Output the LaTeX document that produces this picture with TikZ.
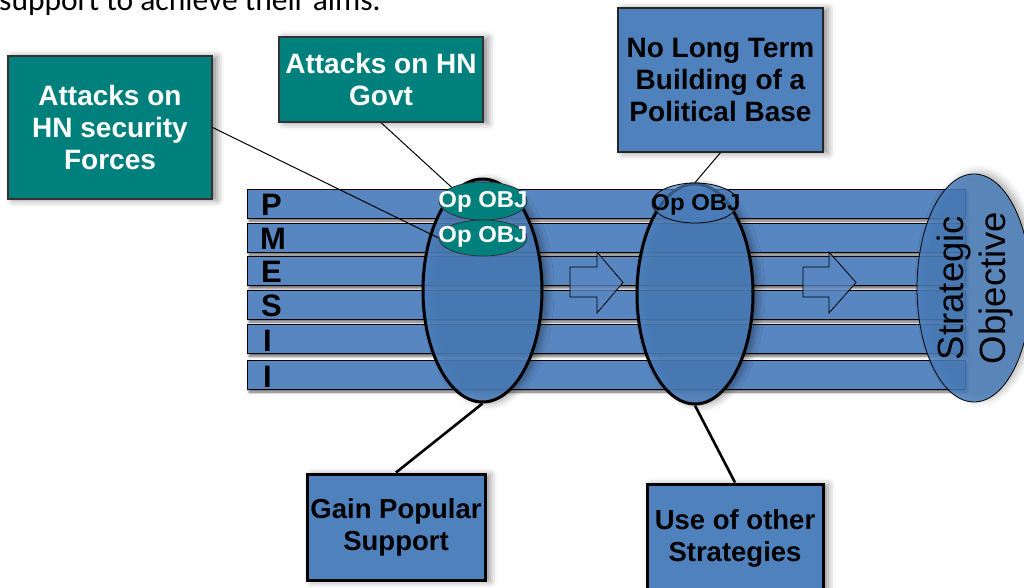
\documentclass[tikz,border=0pt]{standalone}
\usepackage{fontspec}
\setmainfont{Liberation Sans}
\newfontfamily\bodyfont{Carlito}
\usetikzlibrary{shapes.geometric,shadows.blur}

\definecolor{barblue}{HTML}{5886C0}
\definecolor{ovalblue}{HTML}{4A7EBB}
\definecolor{boxblue}{HTML}{4F81BD}
\definecolor{tealfill}{HTML}{00807D}

\begin{document}
\begin{tikzpicture}[x=1pt,y=-1pt,
  softshadow/.style={blur shadow={shadow xshift=5pt, shadow yshift=-1pt,
      shadow blur radius=7pt, shadow opacity=45}},
  bar/.style={draw=black, line width=1pt, fill=barblue,
      minimum width=718pt, minimum height=29pt, inner sep=0pt,
      blur shadow={shadow xshift=2pt, shadow yshift=-3pt,
      shadow blur radius=2.5pt, shadow opacity=60}},
  barletter/.style={font=\fontsize{31}{31}\selectfont\bfseries,
      anchor=base west, inner sep=0pt},
  bigoval/.style={ellipse, draw=black, line width=3pt, fill=ovalblue,
      fill opacity=0.88, inner sep=0pt, softshadow},
  stratoval/.style={ellipse, draw=black, line width=0.8pt, fill=ovalblue,
      fill opacity=0.85, inner sep=0pt, rotate=90,
      blur shadow={shadow xshift=5pt, shadow yshift=2pt,
      shadow blur radius=7pt, shadow opacity=35}},
  strattext/.style={rotate=90, align=center, inner sep=0pt,
      font=\fontsize{36.5}{42}\selectfont},
  opteal/.style={ellipse, draw=black!80, line width=0.8pt, fill=tealfill,
      inner sep=0pt},
  opblue/.style={ellipse, draw=black, line width=0.8pt, fill=ovalblue,
      fill opacity=0.7, inner sep=0pt},
  optext/.style={font=\fontsize{23}{23}\selectfont\bfseries, inner sep=0pt},
  tealbox/.style={draw=black!80, line width=1.2pt, fill=tealfill,
      text=white, align=center, inner sep=0pt,
      font=\fontsize{28}{32}\selectfont\bfseries, softshadow},
  bluebox/.style={draw=black!85, line width=1.2pt, fill=boxblue,
      align=center, inner sep=0pt,
      font=\fontsize{28}{32}\selectfont\bfseries, softshadow},
  heavybox/.style={draw=black, line width=3pt, fill=boxblue,
      align=center, inner sep=0pt,
      font=\fontsize{27.5}{32}\selectfont\bfseries, softshadow},
  blockarrow/.style={draw=black, line width=0.8pt, fill=barblue,
      fill opacity=0.8},
  thinlink/.style={draw=black, line width=1pt},
  thicklink/.style={draw=black, line width=2.6pt}
]
\useasboundingbox (0,0) rectangle (1024,588);
\clip (0,0) rectangle (1024,588);

% lead-in sentence, partly cut off at the top
\node[font=\bodyfont\fontsize{31.5}{31.5}\selectfont, anchor=base west,
      inner sep=0pt] (lead) at (-1,11) {support to achieve their aims.};

% the six lines of effort
\node[bar] (barP)  at (606,203.5) {};
\node[bar] (barM)  at (606,237.5) {};
\node[bar] (barE)  at (606,271)   {};
\node[bar] (barS)  at (606,304.5) {};
\node[bar] (barI)  at (606,338.8) {};
\node[bar] (barII) at (606,374.5) {};

\node[barletter] (lP)  at (261,215) {P};
\node[barletter] (lM)  at (260,249) {M};
\node[barletter] (lE)  at (261,282) {E};
\node[barletter] (lS)  at (261,316) {S};
\node[barletter] (lI)  at (263,351) {I};
\node[barletter] (lII) at (263,387) {I};

% phase ovals
\node[bigoval, minimum width=119pt, minimum height=223pt] (ov1) at (482.5,290.5) {};
\node[bigoval, minimum width=116pt, minimum height=220pt] (ov2) at (695,294) {};

% progression arrows
\draw[blockarrow] (570,267) -- (597,267) -- (597,252) -- (623,282.5)
   -- (597,313) -- (597,297) -- (570,297) -- cycle;
\draw[blockarrow] (803,267) -- (829,267) -- (829,252) -- (856,282.5)
   -- (829,313) -- (829,297) -- (803,297) -- cycle;

% end state
\node[stratoval, minimum width=228pt, minimum height=114pt] (strat) at (974,288) {};
\node[strattext] (stratt) at (975,288) {Strategic\\Objective};

% operational objectives
\node[opteal, minimum width=88pt, minimum height=38pt] (op1) at (483,201) {};
\node[optext, text=white] (op1t) at (483,202) {\scalebox{1.04}[1]{Op OBJ}};
\node[opteal, minimum width=88pt, minimum height=36pt] (op2) at (483,238) {};
\node[optext, text=white] (op2t) at (483,237) {\scalebox{1.04}[1]{Op OBJ}};
\node[opblue, minimum width=86pt, minimum height=40pt] (op3) at (695,203) {};
\node[optext, text=black] (op3t) at (696,205) {\scalebox{1.04}[1]{Op OBJ}};

% callout boxes
\node[tealbox, minimum width=204pt, minimum height=143pt] (sec) at (110,127.5)
   {Attacks on\\HN security\\Forces};
\node[tealbox, minimum width=204pt, minimum height=85pt] (govt) at (381,79.5)
   {Attacks on HN\\Govt};
\node[bluebox, minimum width=205pt, minimum height=144pt] (pol) at (720.5,80)
   {No Long Term\\Building of a\\Political Base};
\node[heavybox, minimum width=178pt, minimum height=106pt] (gain) at (396,527)
   {Gain Popular\\Support};
\node[heavybox, minimum width=176pt, minimum height=108pt] (use) at (735,538)
   {Use of other\\Strategies};

% connectors
\draw[thinlink] (sec.east) -- (op2.west);
\draw[thinlink] (govt.south) -- (op1.north west);
\draw[thinlink] (pol.south) -- (op3.north);
\draw[thicklink] (ov1.south) -- (gain.north);
\draw[thicklink] (ov2.south) -- (use.north);
\end{tikzpicture}
\end{document}
